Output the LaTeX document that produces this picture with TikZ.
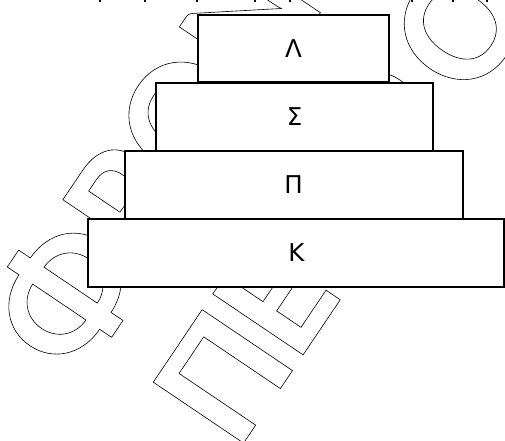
\documentclass[tikz,border=0pt]{standalone}
\usepackage{fontspec}
\setmainfont{Carlito}
\newfontfamily\labfont{DejaVu Sans}
\newcommand{\outl}[1]{\special{pdf:literal direct 1 Tr 0.6 w}#1\special{pdf:literal direct 0 Tr}}
\begin{document}
\begin{tikzpicture}[x=1pt,y=1pt,
  wm/.style={inner sep=0pt, anchor=base west, font=\fontsize{168}{180}\selectfont\bfseries},
  layer/.style={draw=black, line width=1.8pt, fill=white, inner sep=0pt, font=\labfont\fontsize{24.5}{26}\selectfont},
  tick/.style={fill=black}]
\useasboundingbox (0,0) rectangle (505,440);
\clip (0,0) rectangle (505,440);
\begin{scope}[shift={(245,-1)}, rotate=56, transform shape]
 \node[wm] (wm1) at (-46,177) {\outl{ΦΡΟ\kern5ptΝΤΙΣΤΗΡΙΟ}};
 \node[wm] (wm2) at (-12,0) {\outl{ΠΕΝ\kern14ptΡ\kern18ptΟΥ}};
\end{scope}
\foreach \tx in {100,145,197,255,290,412,453,487}
  \fill[tick] (\tx-1,437.5) rectangle (\tx+1,440);
\node[layer, minimum width=190.4, minimum height=67.3] (L) at (293.5,391.35) {Λ};
\node[layer, minimum width=276.4, minimum height=67.7] (S) at (294.5,323.15) {Σ};
\node[layer, minimum width=338, minimum height=68] (P) at (293.7,255) {Π};
\node[layer, minimum width=416, minimum height=67.7] (K) at (296.3,187.15) {Κ};
\end{tikzpicture}
\end{document}
